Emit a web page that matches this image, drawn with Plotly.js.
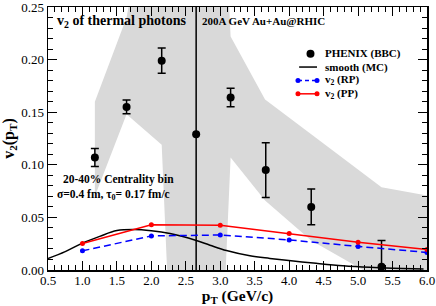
<!DOCTYPE html>
<html>
<head>
<meta charset="utf-8">
<script src="https://cdn.plot.ly/plotly-3.0.1.min.js"></script>
<style>html,body{margin:0;padding:0;background:#fff;}#chart{width:436px;height:306px;}</style>
</head>
<body>
<div id="chart"></div>
<script>
// PHENIX (BBC) data
const phenixX = [1.18, 1.64, 2.15, 2.65, 3.15, 3.66, 4.32, 5.34];
const phenixY = [0.107, 0.155, 0.199, 0.129, 0.164, 0.095, 0.060, 0.003];
const phenixErr = [0.0085, 0.0065, 0.012, 0.40, 0.0088, 0.026, 0.017, 0.025];

// Error band (shaded)
const bandX = [1.18, 1.64, 2.15, 2.65, 3.15, 3.65, 4.32, 5.34, 6.0];
const bandUpper = [0.160, 0.240, 0.42, 0.90, 0.222, 0.162, 0.129, 0.0786, 0.0708];
const bandLower = [0.070, 0.148, 0.119, -0.64, 0.107, 0.066, 0.028, -0.010, -0.010];

// smooth (MC)
const mcX = [0.5, 0.75, 1.0, 1.25, 1.5, 1.75, 2.0, 2.27, 2.64, 2.85, 3.09, 3.43, 3.72, 4.06, 4.39, 4.78, 5.17, 5.5, 5.95];
const mcY = [0.011, 0.0175, 0.0256, 0.032, 0.0375, 0.0385, 0.0373, 0.0346, 0.0283, 0.0236, 0.0185, 0.0135, 0.011, 0.0085, 0.0063, 0.004, 0.0025, 0.0017, 0.001];

// v2 (RP) and v2 (PP)
const modelX = [1.0, 2.0, 3.0, 4.0, 5.0, 6.0];
const rpY = [0.0182, 0.0324, 0.0333, 0.0286, 0.0224, 0.0167];
const ppY = [0.0252, 0.0431, 0.0425, 0.0346, 0.0264, 0.0195];

// tick values
const yTicks = [0, 0.05, 0.10, 0.15, 0.20, 0.25];

// legend labels (drawn as a compact key)
const legendLabels = ['PHENIX (BBC)', 'smooth (MC)', 'v<sub>2</sub> (RP)', 'v<sub>2</sub> (PP)'];
const legendKinds = ['dot', 'line', 'dashmark', 'linemark'];
const legendColors = ['#000000', '#000000', '#0000ff', '#ff0000'];

const serif = 'Liberation Serif, Times New Roman, serif';

const traces = [
  {
    x: bandX.concat(bandX.slice().reverse()),
    y: bandUpper.concat(bandLower.slice().reverse()),
    type: 'scatter', mode: 'lines', fill: 'toself',
    fillcolor: '#d9d9d9', line: {width: 0, color: '#d9d9d9'},
    showlegend: false, hoverinfo: 'skip'
  },
  {
    x: phenixX, y: phenixY, type: 'scatter', mode: 'markers',
    name: 'PHENIX (BBC)',
    marker: {color: '#000', size: 8},
    error_y: {type: 'data', array: phenixErr, visible: true, color: '#000', thickness: 1.5, width: 4}
  },
  {
    x: mcX, y: mcY, type: 'scatter', mode: 'lines', line: {color: '#000', width: 1.5, shape: 'spline'},
    name: 'smooth (MC)'
  },
  {
    x: modelX, y: rpY, type: 'scatter', mode: 'lines+markers',
    line: {color: '#0000ff', width: 1.5, dash: '7px,4px'},
    marker: {color: '#0000ff', size: 5},
    name: 'v2 (RP)'
  },
  {
    x: modelX, y: ppY, type: 'scatter', mode: 'lines+markers',
    line: {color: '#ff0000', width: 1.5},
    marker: {color: '#ff0000', size: 5},
    name: 'v2 (PP)'
  }
];

// legend key layout (paper coordinates)
const keyTop = 0.8226, keyStep = 0.0509, keyX0 = 0.6596, keyX1 = 0.7098, keyMid = 0.6926, keyText = 0.7256;
const shapes = [];
const annotations = [];
legendLabels.forEach(function(lab, i) {
  const yy = keyTop - i * keyStep;
  const c = legendColors[i];
  const kind = legendKinds[i];
  if (kind === 'dot') {
    shapes.push({type: 'circle', xref: 'paper', yref: 'paper', xsizemode: 'pixel', ysizemode: 'pixel',
      xanchor: keyMid, yanchor: yy, x0: -4, x1: 4, y0: -4, y1: 4, fillcolor: c, line: {width: 0}});
  } else {
    shapes.push({type: 'line', xref: 'paper', yref: 'paper', x0: kind === 'line' ? keyX0 + 0.003 : keyX0, x1: keyX1, y0: yy, y1: yy,
      line: {color: c, width: 1.5, dash: kind === 'dashmark' ? '4px,3px' : 'solid'}});
    if (kind !== 'line') {
      [keyX0, keyX1].forEach(function(xx) {
        shapes.push({type: 'circle', xref: 'paper', yref: 'paper', xsizemode: 'pixel', ysizemode: 'pixel',
          xanchor: xx, yanchor: yy, x0: -2.5, x1: 2.5, y0: -2.5, y1: 2.5, fillcolor: c, line: {width: 0}});
      });
    }
  }
  annotations.push({xref: 'paper', yref: 'paper', x: keyText, y: yy, xanchor: 'left', yanchor: 'middle',
    showarrow: false, text: '<b>' + lab + '</b>', font: {family: serif, size: 11, color: '#000'}});
});

annotations.push(
  {xref: 'paper', yref: 'paper', x: 0.018, y: 0.946, xanchor: 'left', yanchor: 'middle', showarrow: false,
   text: '<b>v<sub>2</sub> of thermal photons</b>', font: {family: serif, size: 14, color: '#000'}},
  {xref: 'paper', yref: 'paper', x: 0.40, y: 0.946, xanchor: 'left', yanchor: 'middle', showarrow: false,
   text: '<b>200A GeV Au+Au@RHIC</b>', font: {family: serif, size: 11, color: '#000'}},
  {xref: 'paper', yref: 'paper', x: 0.035, y: 0.343, xanchor: 'left', yanchor: 'middle', showarrow: false,
   text: '<b>20-40% Centrality bin</b>', font: {family: serif, size: 11.5, color: '#000'}},
  {xref: 'paper', yref: 'paper', x: 0.018, y: 0.284, xanchor: 'left', yanchor: 'middle', showarrow: false,
   text: '<b>σ=0.4 fm, τ<sub>0</sub>= 0.17 fm/c</b>', font: {family: serif, size: 11.5, color: '#000'}}
);

const axisCommon = {
  showgrid: false, zeroline: false, showline: true, linecolor: '#000', linewidth: 1.5,
  mirror: 'ticks', ticks: 'inside', ticklen: 9, tickwidth: 1, tickcolor: '#000',
  ticklabeloverflow: 'allow',
  tickfont: {family: serif, size: 13, color: '#000'},
  minor: {ticks: 'inside', ticklen: 5, tickwidth: 1, tickcolor: '#000', showgrid: false}
};

const layout = {
  width: 436, height: 306,
  margin: {l: 48, r: 9, t: 7, b: 36},
  paper_bgcolor: '#fff', plot_bgcolor: '#fff',
  showlegend: false,
  xaxis: Object.assign({}, axisCommon, {
    range: [0.5, 6.0], dtick: 0.5, tick0: 0.5, tickformat: '.1f', ticklabelstandoff: -2,
    minor: Object.assign({}, axisCommon.minor, {dtick: 0.1, tick0: 0.5}),
    title: {text: '<b>p<sub>T</sub> (GeV/c)</b>', font: {family: serif, size: 15.5, color: '#000'}, standoff: 2}
  }),
  yaxis: Object.assign({}, axisCommon, {
    range: [0, 0.25], tickmode: 'array', tickvals: yTicks, tickformat: '.2f',
    minor: Object.assign({}, axisCommon.minor, {dtick: 0.01, tick0: 0}),
    title: {text: '<b>v<sub>2</sub>(p<sub>T</sub>)</b>', font: {family: serif, size: 16, color: '#000'}, standoff: 4}
  }),
  shapes: shapes,
  annotations: annotations
};

Plotly.newPlot('chart', traces, layout, {displayModeBar: false, staticPlot: true});
</script>
</body>
</html>
